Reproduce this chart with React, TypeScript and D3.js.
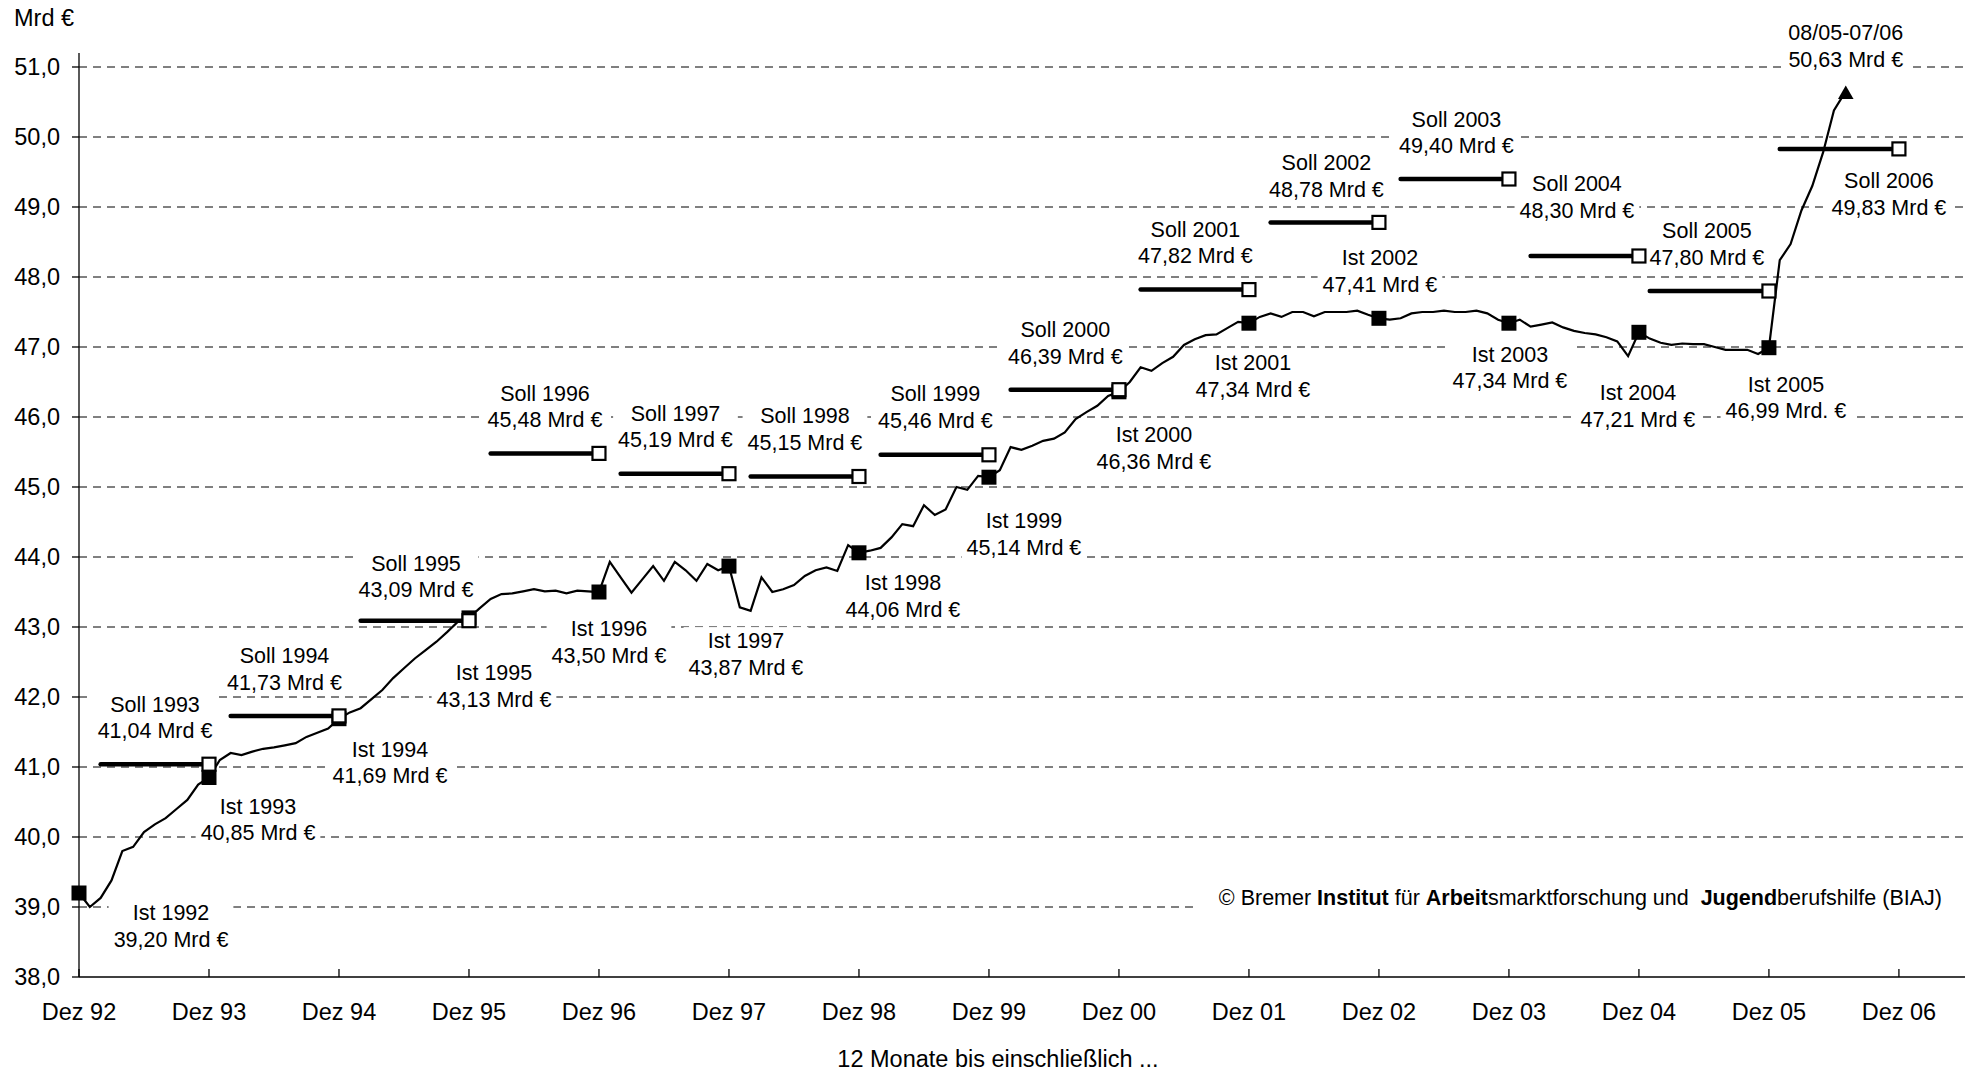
import React, { useEffect, useRef } from 'react';
import * as d3 from 'd3';

const WIDTH = 1977;
const HEIGHT = 1073;

// x tick labels (December of each year, month index 0 = Dez 92)
const xTickLabels = ['Dez 92', 'Dez 93', 'Dez 94', 'Dez 95', 'Dez 96', 'Dez 97', 'Dez 98', 'Dez 99', 'Dez 00', 'Dez 01', 'Dez 02', 'Dez 03', 'Dez 04', 'Dez 05', 'Dez 06'];
const yTickValues = [38, 39, 40, 41, 42, 43, 44, 45, 46, 47, 48, 49, 50, 51];

// 12-month rolling sums (Mrd €), Dez 92 and then Jan..Dez of each year
const dez1992 = [39.2];
const months1993 = [39.0, 39.13, 39.38, 39.8, 39.86, 40.07, 40.18, 40.27, 40.4, 40.53, 40.75, 40.85];
const months1994 = [41.1, 41.2, 41.17, 41.22, 41.26, 41.28, 41.31, 41.34, 41.43, 41.49, 41.55, 41.69];
const months1995 = [41.78, 41.84, 41.97, 42.1, 42.27, 42.41, 42.55, 42.67, 42.79, 42.93, 43.08, 43.13];
const months1996 = [43.27, 43.4, 43.47, 43.48, 43.51, 43.54, 43.51, 43.52, 43.48, 43.52, 43.51, 43.5];
const months1997 = [43.93, 43.71, 43.49, 43.68, 43.87, 43.66, 43.93, 43.81, 43.66, 43.9, 43.81, 43.87];
const months1998 = [43.28, 43.23, 43.71, 43.5, 43.54, 43.6, 43.73, 43.81, 43.85, 43.8, 44.17, 44.06];
const months1999 = [44.09, 44.13, 44.28, 44.47, 44.44, 44.74, 44.6, 44.68, 45.0, 44.96, 45.16, 45.14];
const months2000 = [45.24, 45.57, 45.53, 45.59, 45.66, 45.69, 45.78, 45.97, 46.07, 46.16, 46.3, 46.36];
const months2001 = [46.5, 46.71, 46.66, 46.77, 46.86, 47.03, 47.11, 47.17, 47.18, 47.27, 47.36, 47.34];
const months2002 = [47.43, 47.48, 47.43, 47.5, 47.5, 47.44, 47.5, 47.5, 47.5, 47.52, 47.46, 47.41];
const months2003 = [47.39, 47.41, 47.48, 47.5, 47.5, 47.52, 47.5, 47.5, 47.52, 47.48, 47.39, 47.34];
const months2004 = [47.39, 47.29, 47.32, 47.35, 47.28, 47.23, 47.2, 47.18, 47.14, 47.08, 46.87, 47.21];
const months2005 = [47.12, 47.06, 47.03, 47.05, 47.04, 47.04, 47.0, 46.96, 46.96, 46.96, 46.9, 46.99];
const months2006 = [48.24, 48.47, 48.95, 49.3, 49.78, 50.38, 50.63]; // Jan..Jul 06

// "Ist" (actual) values at December of each year
const istYears = [1992, 1993, 1994, 1995, 1996, 1997, 1998, 1999, 2000, 2001, 2002, 2003, 2004, 2005];
const istValues = [39.2, 40.85, 41.69, 43.13, 43.5, 43.87, 44.06, 45.14, 46.36, 47.34, 47.41, 47.34, 47.21, 46.99];
const istUnits = [' Mrd €', ' Mrd €', ' Mrd €', ' Mrd €', ' Mrd €', ' Mrd €', ' Mrd €', ' Mrd €', ' Mrd €', ' Mrd €', ' Mrd €', ' Mrd €', ' Mrd €', ' Mrd. €'];

// "Soll" (planned) values per year, line from start month to December
const sollYears = [1993, 1994, 1995, 1996, 1997, 1998, 1999, 2000, 2001, 2002, 2003, 2004, 2005, 2006];
const sollValues = [41.04, 41.73, 43.09, 45.48, 45.19, 45.15, 45.46, 46.39, 47.82, 48.78, 49.4, 48.3, 47.8, 49.83];
const sollStartMonths = [2, 14, 26, 38, 50, 62, 74, 86, 98, 110, 122, 134, 145, 157];

const lastPeriodLabel = '08/05-07/06';

// label placement (layout): offset of label center / first baseline from its marker, px
const istLabelOffsets: [number, number][] = [[92, 27], [49, 36], [51, 38], [25, 62], [10, 44], [17, 82], [44, 37], [35, 51], [35, 50], [4, 47], [1, -53], [1, 38.5], [-1, 68], [17, 44]];
const sollLabelOffsets: [number, number][] = [[-54, -52.5], [-54.5, -52.6], [-53, -50], [-54, -52.7], [-53.5, -53], [-54, -53.2], [-53.6, -54], [-53.6, -52.4], [-53.5, -53], [-52.5, -52], [-52.5, -52.3], [-62, -65], [-62, -52.7], [-10, 39.4]];
const lastLabelOffset: [number, number] = [1, -53];

const FONT = '"Liberation Sans", Arial, Helvetica, sans-serif';
const fmt = (v: number) => v.toFixed(2).replace('.', ',');

export default function App() {
  const ref = useRef<SVGSVGElement>(null);

  useEffect(() => {
    const svg = d3.select(ref.current);
    svg.selectAll('*').remove();

    const series = [
      ...dez1992, ...months1993, ...months1994, ...months1995, ...months1996, ...months1997, ...months1998,
      ...months1999, ...months2000, ...months2001, ...months2002, ...months2003, ...months2004, ...months2005, ...months2006,
    ];
    const data = series.map((v, i) => ({ m: i, v }));

    const x = d3.scaleLinear().domain([0, 174.1]).range([79, 1965]);
    const y = d3.scaleLinear().domain([38, 51.2]).range([977, 53]);
    const xTicks = xTickLabels.map((_, i) => i * 12);

    // gridlines
    svg.append('g').selectAll('line').data(yTickValues.filter(v => v > 38)).join('line')
      .attr('x1', x(0)).attr('x2', x.range()[1])
      .attr('y1', d => y(d)).attr('y2', d => y(d))
      .attr('stroke', '#000').attr('stroke-width', 1).attr('stroke-dasharray', '8,6');

    // labels with white boxes
    const LINE = 26.7;
    const labelLayer = svg.append('g');
    const addLabel = (cx: number, b1: number, lines: string[]) => {
      const g = labelLayer.append('g');
      const rect = g.append('rect').attr('fill', '#fff');
      const nodes = lines.map((t, i) => g.append('text')
        .attr('x', cx).attr('y', b1 + i * LINE)
        .attr('text-anchor', 'middle').attr('font-size', 21.5).attr('font-family', FONT).attr('fill', '#000')
        .text(t));
      const w = d3.max(nodes, n => (n.node() as SVGTextElement).getComputedTextLength()) || 0;
      rect.attr('x', cx - w / 2 - 5).attr('y', b1 - 21).attr('width', w + 10)
        .attr('height', (lines.length - 1) * LINE + 26);
    };

    istYears.forEach((yr, i) => {
      const mx = x((yr - 1992) * 12), my = y(istValues[i]);
      const [dx, dy] = istLabelOffsets[i];
      addLabel(mx + dx, my + dy, [`Ist ${yr}`, fmt(istValues[i]) + istUnits[i]]);
    });
    sollYears.forEach((yr, i) => {
      const mx = x((yr - 1992) * 12), my = y(sollValues[i]);
      const [dx, dy] = sollLabelOffsets[i];
      addLabel(mx + dx, my + dy, [`Soll ${yr}`, fmt(sollValues[i]) + ' Mrd €']);
    });
    const last = data[data.length - 1];
    addLabel(x(last.m) + lastLabelOffset[0], y(last.v) + lastLabelOffset[1], [lastPeriodLabel, fmt(last.v) + ' Mrd €']);

    // copyright
    const cg = svg.append('g');
    const crect = cg.append('rect').attr('fill', '#fff');
    const ct = cg.append('text').attr('x', 1942).attr('y', 905).attr('text-anchor', 'end')
      .attr('font-size', 21.5).attr('font-family', FONT).attr('fill', '#000').style('white-space', 'pre');
    const parts: [string, boolean][] = [['© Bremer ', false], ['Institut', true], [' für ', false], ['Arbeit', true], ['smarktforschung und  ', false], ['Jugend', true], ['berufshilfe (BIAJ)', false]];
    parts.forEach(([t, b]) => ct.append('tspan').attr('font-weight', b ? 'bold' : 'normal').text(t));
    const bb = (ct.node() as SVGTextElement).getBBox();
    crect.attr('x', bb.x - 20).attr('y', 884).attr('width', 1972 - (bb.x - 20)).attr('height', 30);

    // axes
    const axes = svg.append('g').attr('stroke', '#000');
    axes.append('line').attr('x1', x(0)).attr('x2', x(0)).attr('y1', y(38)).attr('y2', y.range()[1]).attr('stroke-width', 1.3);
    axes.append('line').attr('x1', x(0)).attr('x2', x.range()[1]).attr('y1', y(38)).attr('y2', y(38)).attr('stroke-width', 1.3);
    axes.selectAll('.yt').data(yTickValues).join('line').attr('class', 'yt')
      .attr('x1', x(0) - 7).attr('x2', x(0)).attr('y1', d => y(d)).attr('y2', d => y(d)).attr('stroke-width', 1.3);
    axes.selectAll('.xt').data(xTicks).join('line').attr('class', 'xt')
      .attr('x1', d => x(d)).attr('x2', d => x(d)).attr('y1', y(38)).attr('y2', y(38) - 8).attr('stroke-width', 1.3);

    const txt = svg.append('g').attr('font-family', FONT).attr('font-size', 23.5).attr('fill', '#000');
    txt.selectAll('.yl').data(yTickValues).join('text').attr('class', 'yl')
      .attr('x', x(0) - 19).attr('y', d => y(d) + 8.2).attr('text-anchor', 'end')
      .text(d => d.toFixed(1).replace('.', ','));
    txt.selectAll('.xl').data(xTicks).join('text').attr('class', 'xl')
      .attr('x', d => x(d)).attr('y', 1020).attr('text-anchor', 'middle')
      .text((_, i) => xTickLabels[i]);
    txt.append('text').attr('x', 14).attr('y', 26).text('Mrd €');
    txt.append('text').attr('x', 998).attr('y', 1067).attr('text-anchor', 'middle').text('12 Monate bis einschließlich ...');

    // Soll lines
    svg.append('g').selectAll('line').data(sollYears).join('line')
      .attr('x1', (_, i) => x(sollStartMonths[i])).attr('x2', d => x((d - 1992) * 12))
      .attr('y1', (_, i) => y(sollValues[i])).attr('y2', (_, i) => y(sollValues[i]))
      .attr('stroke', '#000').attr('stroke-width', 4.5).attr('stroke-linecap', 'round');

    // data line
    const line = d3.line<{ m: number; v: number }>().x(d => x(d.m)).y(d => y(d.v));
    svg.append('path').datum(data).attr('d', line)
      .attr('fill', 'none').attr('stroke', '#000').attr('stroke-width', 2.2).attr('stroke-linejoin', 'miter');

    // Ist markers
    svg.append('g').selectAll('rect').data(istYears).join('rect')
      .attr('x', d => x((d - 1992) * 12) - 7.5).attr('y', (_, i) => y(istValues[i]) - 7.5)
      .attr('width', 15).attr('height', 15).attr('fill', '#000');
    // Soll markers
    svg.append('g').selectAll('rect').data(sollYears).join('rect')
      .attr('x', d => x((d - 1992) * 12) - 6.5).attr('y', (_, i) => y(sollValues[i]) - 6.5)
      .attr('width', 13).attr('height', 13).attr('fill', '#fff').attr('stroke', '#000').attr('stroke-width', 2.2);

    // end triangle
    svg.append('path')
      .attr('d', d3.symbol(d3.symbolTriangle, 105)())
      .attr('transform', `translate(${x(last.m) + 1},${y(last.v) + 1.5})`)
      .attr('fill', '#000');
  }, []);

  return (
    <svg ref={ref} width={WIDTH} height={HEIGHT}
      style={{ position: 'absolute', left: 0, top: 0, background: '#fff', display: 'block' }} />
  );
}
